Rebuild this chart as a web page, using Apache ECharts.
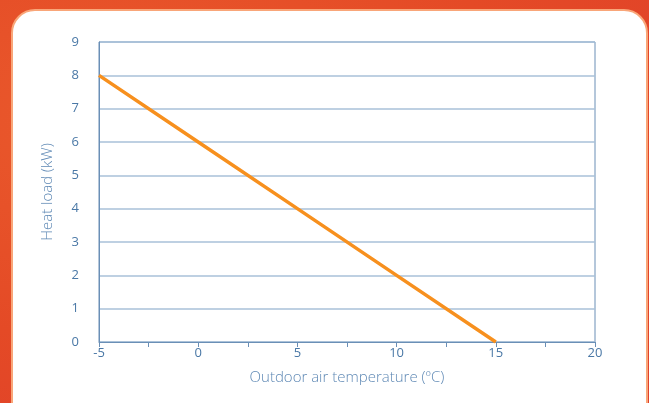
<!DOCTYPE html>
<html><head><meta charset="utf-8">
<script src="https://cdn.jsdelivr.net/npm/echarts@6/dist/echarts.min.js"></script>
<style>
html,body{margin:0;padding:0;width:649px;height:403px;overflow:hidden;}
body{background:radial-gradient(ellipse at 20% 30%, #ea5a2c 0%, #e44a26 55%, #e0402a 100%);position:relative;}
#panel{position:absolute;left:11px;top:9px;width:633px;height:420px;background:#fff;border:2px solid #f9a679;border-radius:24px;}
#chart{position:absolute;left:0;top:0;width:649px;height:403px;}
</style></head>
<body>
<div id="panel"></div>
<div id="chart"></div>
<script>
const temps = [-5, 0, 5, 10, 15];
const loads = [8, 6, 4, 2, 0];
const xTitle = 'Outdoor air temperature (ºC)';
const yTitle = 'Heat load (kW)';

const txt = '#4a78a6';
const titleC = '#5f89b5';
const axisC = '#6a8fb6';
const splitC = '#a8c0d8';
const chart = echarts.init(document.getElementById('chart'), null, {renderer:'canvas'});
chart.setOption({
  backgroundColor: 'transparent',
  animation: false,
  textStyle: {fontFamily: 'Open Sans'},
  grid: {left: 99, top: 42, right: 54, bottom: 61, show: true, borderColor: axisC, borderWidth: 1},
  xAxis: {
    type: 'value', min: -5, max: 20, interval: 5,
    name: xTitle, nameLocation: 'middle', nameGap: 28,
    nameTextStyle: {color: titleC, fontSize: 15, fontWeight: 300, fontFamily: 'Open Sans'},
    axisLine: {show: true, onZero: false, lineStyle: {color: axisC, width: 1}},
    axisTick: {show: true, length: 5, lineStyle: {color: axisC}},
    minorTick: {show: true, splitNumber: 2, length: 5, lineStyle: {color: axisC}},
    axisLabel: {color: txt, fontSize: 13, margin: 5, fontFamily: 'Open Sans'},
    splitLine: {show: false}
  },
  yAxis: {
    type: 'value', min: 0, max: 9, interval: 1,
    name: yTitle, nameLocation: 'middle', nameGap: 44,
    nameTextStyle: {color: titleC, fontSize: 15, fontWeight: 300, fontFamily: 'Open Sans'},
    axisLine: {show: true, onZero: false, lineStyle: {color: axisC, width: 1}},
    axisTick: {show: false},
    axisLabel: {color: txt, fontSize: 13, margin: 20, fontFamily: 'Open Sans'},
    splitLine: {show: true, lineStyle: {color: splitC, width: 1.5}}
  },
  series: [{
    type: 'line',
    data: temps.map((t, i) => [t, loads[i]]),
    symbol: 'none',
    lineStyle: {color: '#f7901e', width: 3.5},
    z: 5
  }]
});
</script>
</body></html>
